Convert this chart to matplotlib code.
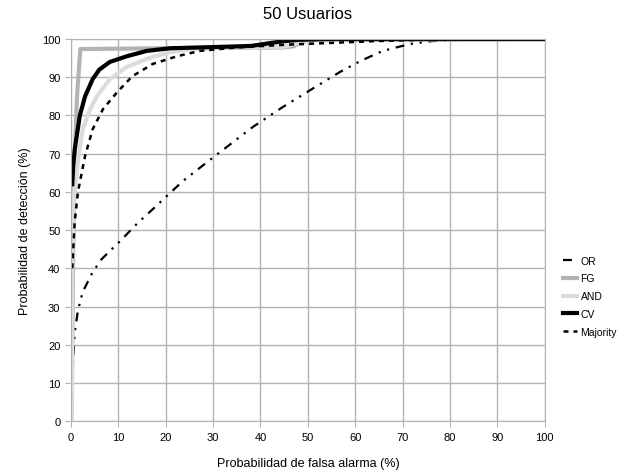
import matplotlib
matplotlib.use('Agg')
import matplotlib.pyplot as plt

plt.rcParams['font.family'] = ['Liberation Sans', 'DejaVu Sans']

# curvas ROC, 50 usuarios
or_x = [0, 0.2, 0.4, 0.8, 1.5, 2.5, 4.6, 6.5, 8.2, 10.3, 13.9, 18, 23.6, 30, 38.4, 44.7, 51.9, 56.8, 61, 65.8, 71.5, 76.4, 83.5, 100]
or_y = [0, 5, 14, 23, 29, 33.8, 39, 42.4, 44.5, 47, 51.6, 56.3, 62.8, 69, 77, 82.2, 87.7, 91.4, 94.2, 96.9, 98.7, 99.5, 100, 100]

fg_x = [0.2, 0.3, 0.5, 0.8, 1.3, 2, 20, 45, 47, 48.5, 50, 100]
fg_y = [0, 20, 45, 68, 85, 97.4, 97.6, 97.8, 98.1, 99.2, 99.8, 100]

and_x = [0.2, 0.3, 0.6, 1.5, 2.5, 4, 5.5, 8.2, 11.8, 16, 20.9, 25.8, 35, 45, 48, 52, 60, 100]
and_y = [0, 40, 58, 68, 76.4, 81.5, 85, 89.5, 92.7, 94.8, 96.6, 97.4, 97.8, 98, 99, 99.7, 100, 100]

cv_x = [0.3, 0.5, 0.8, 1.9, 3, 4.6, 6, 8.2, 11.8, 16, 21, 30, 38, 44, 48, 55, 100]
cv_y = [62, 67, 71, 80, 85, 89.5, 92, 94, 95.5, 96.9, 97.6, 97.9, 98.2, 99.3, 99.8, 100, 100]

maj_x = [0.3, 0.8, 1.5, 3, 4.6, 6.8, 9.7, 13, 17.3, 22.4, 27.2, 35, 45, 55, 65, 80, 100]
maj_y = [40, 52, 60, 69.4, 76.4, 81.7, 86, 90.3, 93.5, 95.5, 96.9, 97.8, 98.5, 99, 99.5, 100, 100]

fig = plt.figure(figsize=(6.44, 4.77), dpi=100)
ax = fig.add_axes([0.110, 0.115, 0.736, 0.801])

ax.plot(or_x, or_y, color='black', linewidth=1.6, dashes=(4, 3, 1, 3, 1, 3), label='OR')
ax.plot(fg_x, fg_y, color='#b3b3b3', linewidth=3, label='FG')
ax.plot(and_x, and_y, color='#dcdcdc', linewidth=3, label='AND')
ax.plot(cv_x, cv_y, color='black', linewidth=3, label='CV')
ax.plot(maj_x, maj_y, color='black', linewidth=1.8, dashes=(2, 2), label='Majority')

ax.set_xlim(0, 100)
ax.set_ylim(0, 100)
ax.set_xticks(range(0, 101, 10))
ax.set_yticks(range(0, 101, 10))
ax.grid(True, color='#b3b3b3', linewidth=1)
ax.set_axisbelow(True)
for s in ax.spines.values():
    s.set_color('#b3b3b3')
ax.tick_params(colors='#b3b3b3', labelcolor='black', labelsize=8, length=4)

ax.set_title('50 Usuarios', fontsize=12, pad=15)
ax.set_xlabel('Probabilidad de falsa alarma (%)', fontsize=9, labelpad=11)
ax.set_ylabel('Probabilidad de detección (%)', fontsize=9, labelpad=8)

fig.legend(loc='center left', bbox_to_anchor=(0.866, 0.377), frameon=False,
           fontsize=7.5, handlelength=1.4, handletextpad=0.3, labelspacing=0.75,
           borderpad=0)

plt.savefig('out.png', dpi=100)
